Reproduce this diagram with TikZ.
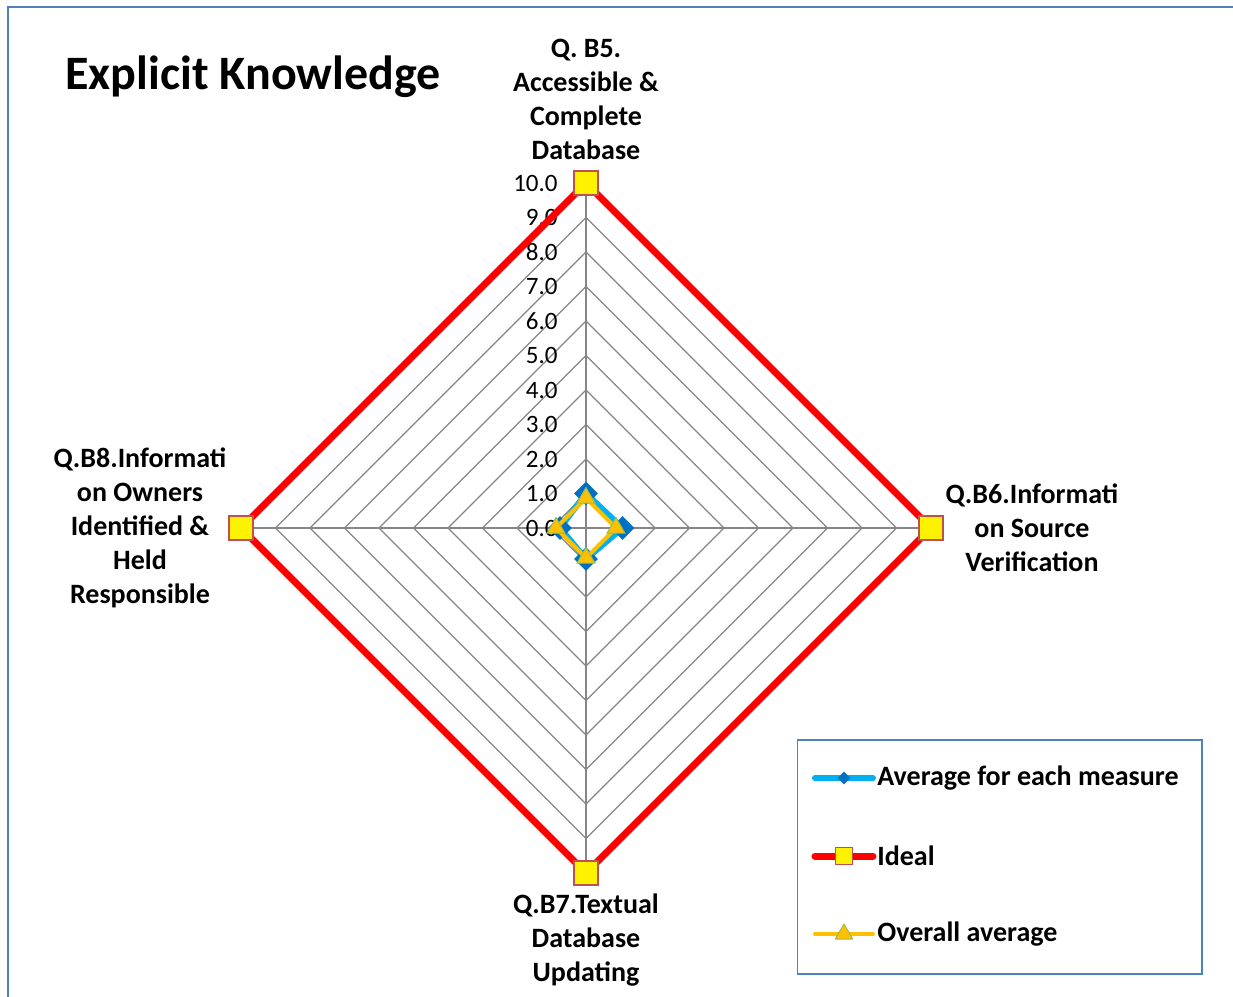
\documentclass[tikz,border=0pt]{standalone}
\usepackage{fontspec}
\setmainfont{Carlito}
\usepackage{xcolor}
\usetikzlibrary{positioning, shapes.geometric}
\definecolor{gridgray}{HTML}{868686}
\definecolor{avgblue}{HTML}{00B0F0}
\definecolor{avgdark}{HTML}{0070C0}
\definecolor{idealred}{HTML}{FF0000}
\definecolor{markborder}{HTML}{C0504D}
\definecolor{overallorange}{HTML}{FFC000}
\definecolor{trigreen}{HTML}{9BBB59}
\definecolor{framebl}{HTML}{4F81BD}
\tikzset{
    gridline/.style={gridgray, line width=0.6pt},
    axislabel/.style={font=\bfseries\fontsize{14}{17}\selectfont, align=center, inner sep=0pt},
    ticklabel/.style={font=\fontsize{12.5}{15}\selectfont, anchor=east, inner sep=0pt},
    legtext/.style={font=\bfseries\fontsize{14}{17}\selectfont, anchor=west, inner sep=0pt},
    avgline/.style={avgblue, line width=3pt, line join=round},
    idealline/.style={idealred, line width=3.5pt, line join=miter},
    overallline/.style={overallorange, line width=2pt, line join=round},
    avgmark/.style={diamond, fill=avgdark, minimum size=12pt, inner sep=0pt},
    idealmark/.style={draw=markborder, fill=yellow, line width=0.6pt, minimum size=12pt, inner sep=0pt},
    overallmark/.style={regular polygon, regular polygon sides=3, draw=trigreen, fill=overallorange, line width=0.5pt, minimum size=10.4pt, inner sep=0pt}
}

\begin{document}
\begin{tikzpicture}[x=0.5pt, y=0.5pt]
    \useasboundingbox (-586,-469) rectangle (647,528);
    \draw[framebl, line width=1pt] (-578,-469) -- (-578,521) -- (647,521);

    \node[anchor=west, inner sep=0pt, font=\bfseries\fontsize{24}{28}\selectfont] (title) at (-521,451) {Explicit Knowledge};

    % grid
    \foreach \k in {1,...,9}
        \draw[gridline] (90:{\k*34.5}) -- (0:{\k*34.5}) -- (-90:{\k*34.5}) -- (180:{\k*34.5}) -- cycle;
    \foreach \a in {0,90,180,270}
        \draw[gridline] (0,0) -- (\a:345);

    \foreach \k in {0,...,10}
        \node[ticklabel] (tick\k) at (-28,{\k*34.5}) {\k.0};

    % series
    \coordinate (a1) at (90:34.5);
    \coordinate (a2) at (0:36.5);
    \coordinate (a3) at (-90:31);
    \coordinate (a4) at (180:26);
    \draw[avgline] (a1) -- (a2) -- (a3) -- (a4) -- cycle;
    \foreach \p in {a1,a2,a3,a4}
        \node[avgmark] (m\p) at (\p) {};

    \coordinate (i1) at (90:345);
    \coordinate (i2) at (0:345);
    \coordinate (i3) at (-90:345);
    \coordinate (i4) at (180:345);
    \draw[idealline] (i1) -- (i2) -- (i3) -- (i4) -- cycle;
    \foreach \p in {i1,i2,i3,i4}
        \node[idealmark] (m\p) at (\p) {};

    \coordinate (o1) at (90:30);
    \coordinate (o2) at (0:30);
    \coordinate (o3) at (-90:30);
    \coordinate (o4) at (180:30);
    \draw[overallline] (o1) -- (o2) -- (o3) -- (o4) -- cycle;
    \foreach \p in {o1,o2,o3,o4}
        \node[overallmark] (m\p) at (\p) {};

    % axis labels
    \node[axislabel] (lblB5) at (0,429) {Q. B5.\\Accessible \&\\Complete\\Database};
    \node[axislabel] (lblB6) at (446,0) {Q.B6.Informati\\on Source\\Verification};
    \node[axislabel] (lblB7) at (0,-412) {Q.B7.Textual\\Database\\Updating};
    \node[axislabel] (lblB8) at (-446,0) {Q.B8.Informati\\on Owners\\Identified \&\\Held\\Responsible};

    % legend
    \node[draw=framebl, line width=0.75pt, minimum width=202pt, minimum height=117pt, inner sep=0pt, anchor=north west] (legend) at (211,-211) {};
    \coordinate (l1s) at (229,-250);
    \coordinate (l1e) at (287,-250);
    \draw[avgline, line cap=round] (l1s) -- (l1e) node[midway, avgmark, minimum size=7.5pt] (lm1) {};
    \node[legtext, right=2pt of l1e] (leg1) {Average for each measure};
    \coordinate (l2s) at (229,-328);
    \coordinate (l2e) at (287,-328);
    \draw[idealline, line cap=round] (l2s) -- (l2e) node[midway, idealmark, minimum size=8.5pt] (lm2) {};
    \node[legtext, right=2pt of l2e] (leg2) {Ideal};
    \coordinate (l3s) at (229,-406);
    \coordinate (l3e) at (287,-406);
    \draw[overallline, line cap=round] (l3s) -- (l3e) node[midway, overallmark, minimum size=10pt] (lm3) {};
    \node[legtext, right=2pt of l3e] (leg3) {Overall average};

\end{tikzpicture}
\end{document}
